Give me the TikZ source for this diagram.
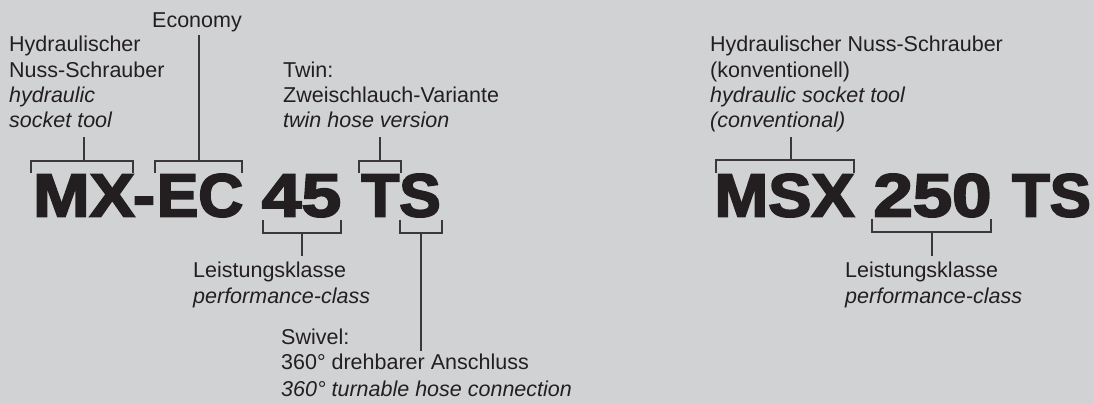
\documentclass[tikz,border=0pt]{standalone}
\usepackage{fontspec}
\setmainfont{Liberation Sans}
\newfontface\heavyface{Liberation Sans Bold}[FakeBold=3]
\definecolor{bg}{HTML}{D1D2D4}
\definecolor{ink}{HTML}{231F20}
\definecolor{rule}{HTML}{3A3839}
\newcommand{\bigtok}[2]{\scalebox{#1}[1]{\heavyface\fontsize{61}{61}\selectfont #2}}
\tikzset{
  lbl/.style={anchor=base west, inner sep=0pt, text=ink, font=\fontsize{21.5}{21.5}\selectfont},
  ilbl/.style={lbl, font=\fontsize{21.5}{21.5}\selectfont\itshape},
  tok/.style={anchor=base, inner sep=0pt, text=ink},
  brk/.style={draw=rule, line width=1.1pt},
}
\begin{document}
\begin{tikzpicture}[x=1pt,y=-1pt]
\fill[bg] (0,0) rectangle (1093,403);
\useasboundingbox (0,0) rectangle (1093,403);

% big type codes
\node[tok] (mx) at (84,216.5) {\bigtok{1.11}{MX}};
\node[tok] (dash) at (144,216.5) {\bigtok{1.08}{-}};
\node[tok] (ec) at (200,216.5) {\bigtok{1.02}{EC}};
\node[tok] (n45) at (301.5,216.5) {\bigtok{1.17}{45}};
\node[tok] (ts) at (401,216.5) {\bigtok{1.02}{TS}};
\node[tok] (msx) at (784.5,216.5) {\bigtok{1.06}{MSX}};
\node[tok] (n250) at (932.5,216.5) {\bigtok{1.16}{250}};
\node[tok] (ts2) at (1051.5,216.5) {\bigtok{1.01}{TS}};

% labels left
\node[lbl] (hy1) at (9,52) {Hydraulischer};
\node[lbl] (hy2) at (9,78) {Nuss-Schrauber};
\node[ilbl] (hy3) at (9,103) {hydraulic};
\node[ilbl] (hy4) at (9,128) {socket tool};
\node[lbl] (eco) at (152,28) {Economy};
\node[lbl] (tw1) at (283,78) {Twin:};
\node[lbl] (tw2) at (283,103) {Zweischlauch-Variante};
\node[ilbl] (tw3) at (283,128) {twin hose version};
\node[lbl] (lk1) at (193,278) {Leistungsklasse};
\node[ilbl] (lk2) at (193,304) {performance-class};
\node[lbl] (sw1) at (281,345) {Swivel:};
\node[lbl] (sw2) at (281,370) {360° drehbarer Anschluss};
\node[ilbl] (sw3) at (281,396) {360° turnable hose connection};
% labels right
\node[lbl] (rh1) at (710,52) {Hydraulischer Nuss-Schrauber};
\node[lbl] (rh2) at (710,78) {(konventionell)};
\node[ilbl] (rh3) at (710,103) {hydraulic socket tool};
\node[ilbl] (rh4) at (710,128) {(conventional)};
\node[lbl] (rl1) at (845,278) {Leistungsklasse};
\node[ilbl] (rl2) at (845,304) {performance-class};

% brackets above
\draw[brk] (31,173) -- (31,161) -- (133,161) -- (133,173);
\draw[brk] (84,161) -- (84,137);
\draw[brk] (155,173) -- (155,161) -- (242,161) -- (242,173);
\draw[brk] (199,161) -- (199,35);
\draw[brk] (359,173) -- (359,161) -- (401,161) -- (401,173);
\draw[brk] (380,161) -- (380,137);
\draw[brk] (716,173) -- (716,160) -- (854,160) -- (854,173);
\draw[brk] (791,160) -- (791,137);
% brackets below
\draw[brk] (263,220) -- (263,233) -- (341,233) -- (341,220);
\draw[brk] (302,233) -- (302,256);
\draw[brk] (400,220) -- (400,233) -- (442,233) -- (442,220);
\draw[brk] (421,233) -- (421,351);
\draw[brk] (872,219) -- (872,232) -- (991,232) -- (991,219);
\draw[brk] (932,232) -- (932,256);
\end{tikzpicture}
\end{document}
